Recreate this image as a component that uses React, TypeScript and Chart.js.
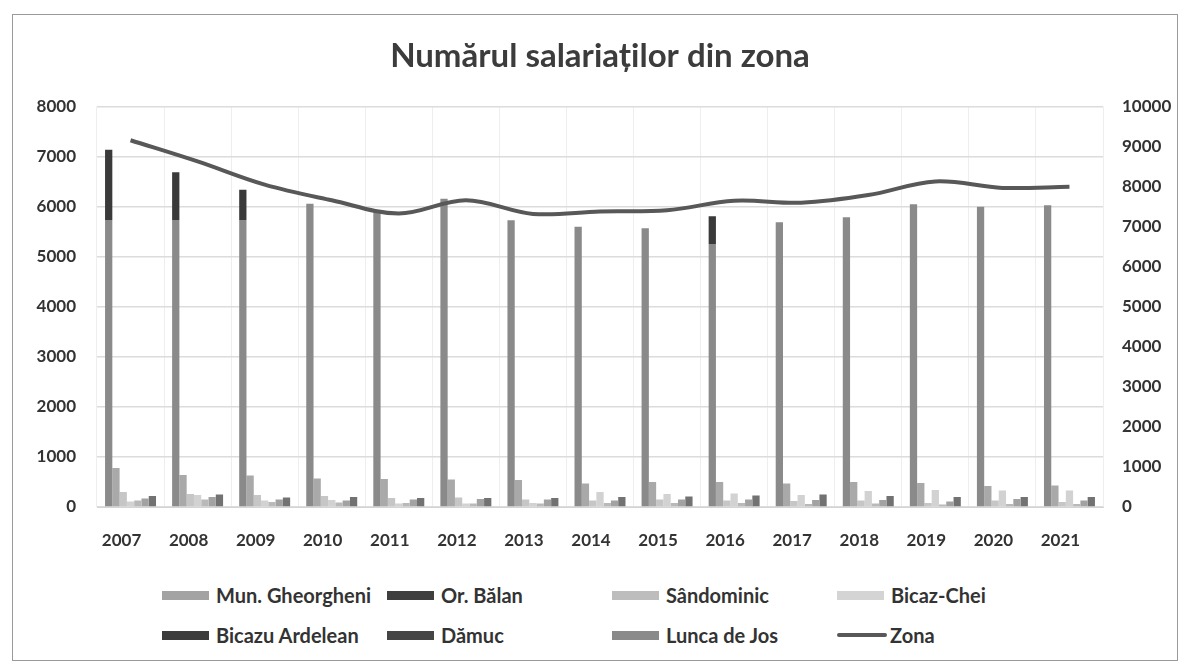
import React, { useEffect, useRef } from "react";
import { Chart, registerables } from "chart.js";

Chart.register(...registerables);

const years = ["2007", "2008", "2009", "2010", "2011", "2012", "2013", "2014", "2015", "2016", "2017", "2018", "2019", "2020", "2021"];

const gheorgheni = [7140, 6690, 6340, 6060, 5920, 6160, 5730, 5600, 5570, 5810, 5690, 5790, 6050, 6000, 6030];
// level above which the scanned Gheorgheni bar appears dark
const gheorgheniDarkFrom: (number | null)[] = [5730, 5740, 5740, null, null, null, null, null, null, 5250, null, null, null, null, null];
const balan = [780, 640, 630, 570, 560, 550, 540, 470, 500, 500, 470, 500, 480, 420, 430];
const sandominic = [300, 260, 240, 220, 180, 190, 150, 130, 150, 130, 120, 130, 80, 130, 100];
const bicazChei = [110, 240, 130, 140, 70, 70, 80, 300, 260, 270, 240, 320, 340, 330, 330];
const bicazuArdelean = [130, 150, 100, 90, 80, 70, 70, 80, 80, 80, 60, 70, 50, 60, 60];
const damuc = [170, 200, 150, 130, 150, 160, 150, 130, 150, 150, 140, 140, 110, 160, 130];
const luncaDeJos = [220, 250, 190, 200, 180, 180, 180, 200, 210, 230, 250, 220, 200, 200, 200];
const zona = [9160, 8630, 8050, 7660, 7330, 7660, 7320, 7380, 7410, 7650, 7600, 7790, 8130, 7970, 8000];

const seriesNames = ["Mun. Gheorgheni", "Or. Bălan", "Sândominic", "Bicaz-Chei", "Bicazu Ardelean", "Dămuc", "Lunca de Jos"];
const seriesData = [gheorgheni, balan, sandominic, bicazChei, bicazuArdelean, damuc, luncaDeJos];
const barColors = ["#8a8a8a", "#a9a9a9", "#c6c6c6", "#d2d2d2", "#b9b9b9", "#a2a2a2", "#727272"];
const legendColors = ["#a3a3a3", "#3f3f3f", "#bdbdbd", "#d4d4d4", "#3c3c3c", "#454545", "#8a8a8a"];
const darkSegment = "#3a3a3a";
const zonaColor = "#585858";

const legendOrder = [
  { name: seriesNames[0], color: legendColors[0], line: false },
  { name: seriesNames[1], color: legendColors[1], line: false },
  { name: seriesNames[2], color: legendColors[2], line: false },
  { name: seriesNames[3], color: legendColors[3], line: false },
  { name: seriesNames[4], color: legendColors[4], line: false },
  { name: seriesNames[5], color: legendColors[5], line: false },
  { name: seriesNames[6], color: legendColors[6], line: false },
  { name: "Zona", color: zonaColor, line: true },
];

const FONT = "Lato, 'Open Sans', sans-serif";

export default function App() {
  const ref = useRef<HTMLCanvasElement>(null);

  useEffect(() => {
    document.body.style.margin = "0";
    const ghColor = (ctx: any) => {
      const i = ctx.dataIndex;
      const base = barColors[0];
      if (ctx.type !== "data") return base;
      const from = gheorgheniDarkFrom[i];
      const y = ctx.chart.scales && ctx.chart.scales.y;
      if (from == null || !y) return base;
      const y0 = y.getPixelForValue(0);
      const yt = y.getPixelForValue(gheorgheni[i]);
      if (!isFinite(y0) || !isFinite(yt) || y0 === yt) return base;
      const g = ctx.chart.ctx.createLinearGradient(0, y0, 0, yt);
      const f = Math.min(1, Math.max(0, from / gheorgheni[i]));
      g.addColorStop(0, base);
      g.addColorStop(f, base);
      g.addColorStop(f, darkSegment);
      g.addColorStop(1, darkSegment);
      return g;
    };

    const barDatasets: any[] = seriesNames.map((name, k) => ({
      type: "bar",
      label: name,
      data: seriesData[k],
      backgroundColor: k === 0 ? ghColor : barColors[k],
      yAxisID: "y",
      order: 1,
      categoryPercentage: 0.76,
      barPercentage: 1.0,
    }));

    const tickFont = { family: FONT, size: 17, weight: "bold" as const };
    const plain = (v: any) => String(v);

    const chart = new Chart(ref.current!, {
      type: "bar",
      data: {
        labels: years,
        datasets: [
          ...barDatasets,
          {
            type: "line",
            label: "Zona",
            data: zona,
            yAxisID: "y1",
            borderColor: zonaColor,
            backgroundColor: zonaColor,
            borderWidth: 4,
            tension: 0.35,
            pointRadius: 0,
            order: 0,
          } as any,
        ],
      },
      options: {
        responsive: false,
        animation: false,
        layout: { padding: 0 },
        plugins: {
          legend: { display: false },
          tooltip: { enabled: false },
          title: {
            display: true,
            fullSize: false,
            text: "Numărul salariaților din zona",
            color: "#3c3c3c",
            font: { family: FONT, size: 33, weight: "bold" },
            padding: { top: 37, bottom: 30 },
          },
        },
        scales: {
          x: {
            grid: { color: "#eeeeee", drawTicks: false },
            border: { color: "#d4d4d4" },
            ticks: { color: "#333", font: tickFont, padding: 23, labelOffset: -9 },
            afterFit: (s: any) => { s.height = 53; },
          },
          y: {
            position: "left",
            min: 0,
            max: 8000,
            grid: { color: "#dcdcdc", lineWidth: 1.5, drawTicks: false },
            border: { display: false },
            ticks: { stepSize: 1000, color: "#333", font: tickFont, padding: 21, callback: plain },
            afterFit: (s: any) => { s.width = 97; },
          },
          y1: {
            position: "right",
            min: 0,
            max: 10000,
            grid: { drawOnChartArea: false, drawTicks: false },
            border: { display: false },
            ticks: { stepSize: 1000, color: "#333", font: tickFont, padding: 19, callback: plain },
            afterFit: (s: any) => { s.width = 84; },
          },
        },
      },
    });
    return () => chart.destroy();
  }, []);

  return (
    <div style={{ position: "fixed", left: 0, top: 0, width: 1187, height: 666, background: "#fff", overflow: "hidden" }}>
      <div style={{ position: "absolute", left: 12, top: 14, width: 1164, height: 645, border: "1.5px solid #9a9a9a" }} />
      <canvas ref={ref} width={1187} height={560} style={{ position: "absolute", left: 0, top: 0, width: 1187, height: 560 }} />
      {legendOrder.map((it, i) => {
        const col = i % 4;
        const row = Math.floor(i / 4);
        const left = 162 + col * 225;
        const top = row === 0 ? 595 : 635;
        return (
          <div key={it.name} style={{ position: "absolute", left, top: top - 13, height: 26, display: "flex", alignItems: "center", fontFamily: FONT, fontWeight: 700, fontSize: 20, color: "#333", whiteSpace: "nowrap" }}>
            {it.line ? (
              <div style={{ width: 50, height: 4, borderRadius: 2, background: it.color, marginRight: 3 }} />
            ) : (
              <div style={{ width: 47, height: 9, background: it.color, marginRight: 7 }} />
            )}
            <span>{it.name}</span>
          </div>
        );
      })}
    </div>
  );
}
